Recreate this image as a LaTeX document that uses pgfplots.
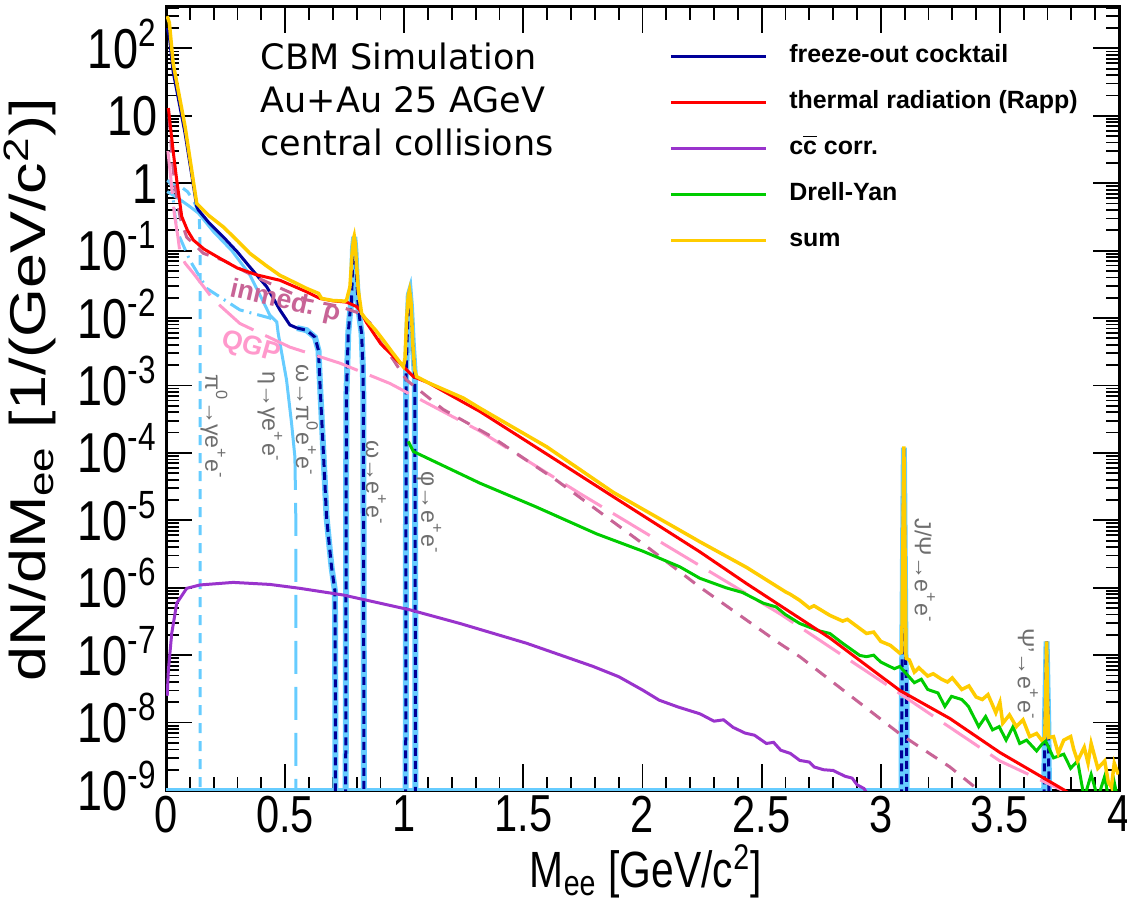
\documentclass[border=0pt]{standalone}
\usepackage{fontspec}
\setmainfont{Liberation Sans}
\newfontfamily\axisfont{Liberation Sans}[FakeStretch=0.8]
\newfontfamily\cbmfont{DejaVu Sans}
\usepackage{pgfplots}
\pgfplotsset{compat=1.18}
\definecolor{cnavy}{RGB}{0,0,153}
\definecolor{cred}{RGB}{255,0,0}
\definecolor{cpurple}{RGB}{153,51,204}
\definecolor{cgreen}{RGB}{0,204,0}
\definecolor{cyellow}{RGB}{255,204,0}
\definecolor{clblue}{RGB}{102,204,255}
\definecolor{cmauve}{RGB}{200,100,150}
\definecolor{cpink}{RGB}{255,153,204}
\definecolor{cgray}{RGB}{110,110,110}
\begin{document}
\begin{tikzpicture}
\path[use as bounding box] (0,0) rectangle (11.27cm,9cm);
\begin{axis}[
  at={(1.66cm,1.10cm)}, anchor=south west,
  width=9.53cm, height=7.83cm, scale only axis,
  xmin=0, xmax=4, ymode=log, ymin=1e-9, ymax=410,
  xtick={0,0.5,1,1.5,2,2.5,3,3.5,4},
  xticklabels={0,0.5,1,1.5,2,2.5,3,3.5,4},
  minor x tick num=4,
  ytick={1e-9,1e-8,1e-7,1e-6,1e-5,1e-4,1e-3,1e-2,1e-1,1,10,100},
  yticklabels={10\textsuperscript{-9},10\textsuperscript{-8},10\textsuperscript{-7},10\textsuperscript{-6},10\textsuperscript{-5},10\textsuperscript{-4},10\textsuperscript{-3},10\textsuperscript{-2},10\textsuperscript{-1},1,10,10\textsuperscript{2}},
  minor ytick={2e-9,3e-9,4e-9,5e-9,6e-9,7e-9,8e-9,9e-9,
    2e-8,3e-8,4e-8,5e-8,6e-8,7e-8,8e-8,9e-8,
    2e-7,3e-7,4e-7,5e-7,6e-7,7e-7,8e-7,9e-7,
    2e-6,3e-6,4e-6,5e-6,6e-6,7e-6,8e-6,9e-6,
    2e-5,3e-5,4e-5,5e-5,6e-5,7e-5,8e-5,9e-5,
    2e-4,3e-4,4e-4,5e-4,6e-4,7e-4,8e-4,9e-4,
    2e-3,3e-3,4e-3,5e-3,6e-3,7e-3,8e-3,9e-3,
    0.02,0.03,0.04,0.05,0.06,0.07,0.08,0.09,
    0.2,0.3,0.4,0.5,0.6,0.7,0.8,0.9,
    2,3,4,5,6,7,8,9,
    20,30,40,50,60,70,80,90,
    200,300,400},
  tick align=inside, tick pos=both,
  major tick length=0.26cm, minor tick length=0.13cm,
  axis line style={line width=0.03cm},
  every tick/.style={black, line width=0.018cm},
  xticklabel style={font=\axisfont\fontsize{14.8}{16}\selectfont, anchor=north, inner sep=0pt, yshift=-0.05cm},
  yticklabel style={font=\axisfont\fontsize{16}{17}\selectfont, anchor=base east, inner sep=0pt, xshift=-0.08cm, yshift=-5.7pt},
  xlabel={M\textsubscript{ee} [GeV/c\textsuperscript{2}]},
  ylabel={\scalebox{1}[0.8]{dN/dM\textsubscript{ee} [1/(GeV/c\textsuperscript{2})]}},
  every axis x label/.style={at={(axis description cs:0.5037,-0.104)}, anchor=center, font=\axisfont\fontsize{14.5}{16}\selectfont},
  every axis y label/.style={at={(axis description cs:-0.1427,0.511)}, anchor=center, rotate=90, font=\fontsize{17.9}{19}\selectfont},
  legend style={at={(0.5163,0.963)}, anchor=north west, draw=none, fill=none,
    font=\bfseries\fontsize{7.1}{8.5}\selectfont, row sep=0.2cm,
    nodes={inner sep=0pt, text height=0.19cm, text depth=0.07cm},
    /tikz/every odd column/.append style={column sep=0.22cm}},
  legend cell align=left,
  legend image code/.code={\draw[#1] (0cm,0cm) -- (0.95cm,0cm);},
]
\addlegendimage{cnavy, line width=0.03cm}
\addlegendentry{freeze-out cocktail}
\addlegendimage{cred, line width=0.03cm}
\addlegendentry{thermal radiation (Rapp)}
\addlegendimage{cpurple, line width=0.03cm}
\addlegendentry{c$\overline{\mbox{c}}$ corr.}
\addlegendimage{cgreen, line width=0.03cm}
\addlegendentry{Drell-Yan}
\addlegendimage{cyellow, line width=0.03cm}
\addlegendentry{sum}

% bottom light-blue band
\addplot[forget plot, clblue, line width=0.05cm] coordinates {(0,1e-9) (3.72,1e-9)};
% pi0 Dalitz
\addplot[forget plot, clblue, line width=0.03cm, dash pattern=on 0.1cm off 0.08cm] coordinates {
(0.005,1.1)(0.03,0.95)(0.06,0.9)(0.09,0.75)(0.115,0.56)(0.13,0.42)(0.140,0.3)(0.143,0.1)(0.144,1e-12)};
% dash-dot component
\addplot[forget plot, clblue, line width=0.03cm, dash pattern=on 0.15cm off 0.06cm on 0.02cm off 0.06cm] coordinates {
(0.01,1.1)(0.024,0.9)(0.045,0.2)(0.10,0.072)(0.171,0.0275)(0.31,0.0132)(0.436,0.010)(0.465,0.0087)};
% eta Dalitz (solid + long dash)
\addplot[forget plot, clblue, line width=0.03cm] coordinates {
(0.005,0.75)(0.05,0.6)(0.10,0.45)(0.136,0.36)(0.2,0.19)(0.276,0.10)(0.35,0.045)(0.40,0.02)(0.436,0.011)(0.465,0.0087)(0.471,0.0059)(0.506,0.0012)(0.527,2.75e-4)(0.541,8.7e-5)};
\addplot[forget plot, clblue, line width=0.03cm, dash pattern=on 0.33cm off 0.13cm] coordinates {
(0.541,8.7e-5)(0.545,1e-5)(0.546,1e-12)};
% light-blue underlay of resonances
\addplot[forget plot, clblue, line width=0.06cm] coordinates {
(0.55,0.0071)(0.59,0.0066)(0.625,0.0052)(0.64,0.0033)(0.646,0.0011)(0.66,1.1e-4)(0.674,1.1e-5)(0.688,3.5e-6)(0.695,2.0e-6)(0.709,9e-7)(0.711,1e-8)(0.712,1e-12)};
\addplot[forget plot, clblue, line width=0.06cm] coordinates {
(0.753,1e-12)(0.755,1e-7)(0.757,7e-4)(0.765,0.006)(0.772,0.0117)(0.779,0.0186)(0.785,0.11)(0.790,0.16)(0.795,0.10)(0.80,0.04)(0.807,0.0148)(0.815,0.0085)(0.821,0.0059)(0.826,0.002)(0.828,7.6e-4)(0.830,1e-7)(0.832,1e-12)};
\addplot[forget plot, clblue, line width=0.06cm] coordinates {
(1.005,1e-12)(1.007,1e-6)(1.008,1.6e-3)(1.013,0.006)(1.019,0.022)(1.023,0.0245)(1.028,0.015)(1.036,0.004)(1.044,1.5e-3)(1.046,1e-6)(1.048,1e-12)};
\addplot[forget plot, clblue, line width=0.06cm] coordinates {
(3.086,1e-12)(3.088,1e-8)(3.090,8e-8)(3.093,2e-6)(3.097,1.2e-4)(3.101,2e-6)(3.104,8e-8)(3.108,3e-8)(3.111,1e-12)};
\addplot[forget plot, clblue, line width=0.06cm] coordinates {
(3.683,1e-12)(3.686,1e-9)(3.689,1e-8)(3.692,3e-8)(3.696,1.6e-7)(3.700,3e-8)(3.703,1e-8)(3.706,1e-9)(3.708,1e-12)};
% freeze-out cocktail (navy)
\addplot[forget plot, cnavy, line width=0.03cm] coordinates {
(0.005,200)(0.014,150)(0.03,45)(0.08,5.5)(0.129,0.45)(0.136,0.40)(0.18,0.26)(0.24,0.16)(0.30,0.095)(0.352,0.057)(0.423,0.029)(0.478,0.0132)(0.52,0.0079)(0.55,0.0071)};
\addplot[forget plot, cnavy, line width=0.03cm, dash pattern=on 0.08cm off 0.05cm] coordinates {
(0.55,0.0071)(0.59,0.0066)(0.625,0.0052)(0.64,0.0033)(0.646,0.0011)(0.66,1.1e-4)(0.674,1.1e-5)(0.688,3.5e-6)(0.695,2.0e-6)(0.709,9e-7)(0.711,1e-8)(0.712,1e-12)};
\addplot[forget plot, cnavy, line width=0.03cm, dash pattern=on 0.08cm off 0.05cm] coordinates {
(0.753,1e-12)(0.755,1e-7)(0.757,7e-4)(0.765,0.006)(0.772,0.0117)(0.779,0.0186)(0.785,0.11)(0.790,0.16)(0.795,0.10)(0.80,0.04)(0.807,0.0148)(0.815,0.0085)(0.821,0.0059)(0.826,0.002)(0.828,7.6e-4)(0.830,1e-7)(0.832,1e-12)};
\addplot[forget plot, cnavy, line width=0.03cm, dash pattern=on 0.08cm off 0.05cm] coordinates {
(1.005,1e-12)(1.007,1e-6)(1.008,1.6e-3)(1.013,0.006)(1.019,0.022)(1.023,0.0245)(1.028,0.015)(1.036,0.004)(1.044,1.5e-3)(1.046,1e-6)(1.048,1e-12)};
\addplot[forget plot, cnavy, line width=0.03cm, dash pattern=on 0.08cm off 0.05cm] coordinates {
(3.086,1e-12)(3.088,1e-8)(3.090,8e-8)(3.093,2e-6)(3.097,1.2e-4)(3.101,2e-6)(3.104,8e-8)(3.108,3e-8)(3.111,1e-12)};
\addplot[forget plot, cnavy, line width=0.03cm, dash pattern=on 0.08cm off 0.05cm] coordinates {
(3.683,1e-12)(3.686,1e-9)(3.689,1e-8)(3.692,3e-8)(3.696,1.6e-7)(3.700,3e-8)(3.703,1e-8)(3.706,1e-9)(3.708,1e-12)};
% charm
\addplot[forget plot, cpurple, line width=0.03cm] coordinates {
(0.005,2.5e-8)(0.01,6e-8)(0.024,2.1e-7)(0.045,5.9e-7)(0.087,9.8e-7)(0.143,1.1e-6)(0.282,1.2e-6)(0.436,1.12e-6)(0.562,9.8e-7)(0.744,7.8e-7)(1.024,4.7e-7)(1.234,2.95e-7)(1.514,1.5e-7)(1.793,6.8e-8)(1.90,4.8e-8)(2.003,3.0e-8)(2.07,2.15e-8)(2.15,1.7e-8)(2.241,1.35e-8)(2.30,1.05e-8)(2.34,1.1e-8)(2.38,8.5e-9)(2.43,7.0e-9)(2.47,6.5e-9)(2.52,4.9e-9)(2.55,5.1e-9)(2.58,3.9e-9)(2.62,3.5e-9)(2.66,2.75e-9)(2.70,2.6e-9)(2.72,2.2e-9)(2.76,2.0e-9)(2.80,1.95e-9)(2.85,1.6e-9)(2.88,1.5e-9)(2.90,1.2e-9)(2.93,1.05e-9)(2.95,8e-10)};
% QGP
\addplot[forget plot, cpink, line width=0.03cm, dash pattern=on 0.43cm off 0.13cm] coordinates {
(0.008,3)(0.02,1.2)(0.035,0.35)(0.05,0.16)(0.059,0.091)(0.08,0.065)(0.115,0.046)(0.2,0.0186)(0.31,0.0083)(0.52,0.0037)(0.73,0.00214)(0.94,0.00107)(1.318,2.1e-4)(1.737,2.5e-5)(2.157,3.2e-6)(2.577,4.1e-7)(3.08,2.7e-8)(3.248,1.07e-8)(3.5,2.7e-9)(3.76,1e-9)(3.8,7e-10)};
% in-medium rho
\addplot[forget plot, cmauve, line width=0.03cm, dash pattern=on 0.13cm off 0.1cm] coordinates {
(0.013,9.7)(0.025,2.5)(0.038,0.89)(0.06,0.3)(0.087,0.158)(0.157,0.091)(0.24,0.072)(0.38,0.0400)(0.59,0.0186)(0.73,0.0148)(0.814,0.0117)(0.856,0.0085)(0.898,0.0045)(0.954,0.0024)(1.01,0.0012)(1.164,4.4e-4)(1.36,1.8e-4)(1.64,3.9e-5)(2.017,4.1e-6)(2.241,1.02e-6)(2.577,1.48e-7)(2.66,9.5e-8)(3.08,6.8e-9)(3.29,2.2e-9)(3.41,1e-9)(3.45,7e-10)};
% Drell-Yan
\addplot[forget plot, cgreen, line width=0.03cm] coordinates {
(1.017,1.48e-4)(1.038,1.05e-4)(1.318,3.55e-5)(1.55,1.6e-5)(1.807,6.3e-6)(2.0,3.5e-6)(2.157,2.04e-6)(2.241,1.38e-6)(2.35,1.0e-6)(2.42,8.5e-7)(2.507,5.9e-7)(2.56,5.2e-7)(2.60,4.0e-7)(2.66,2.95e-7)(2.70,2.6e-7)(2.74,2.3e-7)(2.786,2.1e-7)(2.84,1.5e-7)(2.912,9.9e-8)(2.94,9.5e-8)(2.97,1.0e-7)(3.0,7.9e-8)(3.057,6.3e-8)(3.08,6.8e-8)(3.141,3.9e-8)(3.170,4.4e-8)(3.197,3.1e-8)(3.240,2.75e-8)(3.269,1.74e-8)(3.297,2.45e-8)(3.340,2.2e-8)(3.368,1.74e-8)(3.411,8.7e-9)(3.440,1.23e-8)(3.469,7.8e-9)(3.497,8.7e-9)(3.526,5.5e-9)(3.555,8.7e-9)(3.583,4.9e-9)(3.612,5.5e-9)(3.654,3.8e-9)(3.690,5.5e-9)(3.725,3.0e-9)(3.768,3.4e-9)(3.797,2.1e-9)(3.826,2.7e-9)(3.854,7.6e-10)(3.883,1.7e-9)(3.911,7.6e-10)(3.94,1.6e-9)(3.96,6e-10)(3.98,1.3e-9)(4.0,6e-10)};
% thermal (Rapp)
\addplot[forget plot, cred, line width=0.03cm] coordinates {
(0.01,13)(0.03,3.0)(0.045,1.11)(0.066,0.32)(0.09,0.20)(0.115,0.143)(0.16,0.105)(0.24,0.072)(0.30,0.055)(0.38,0.0437)(0.478,0.0363)(0.59,0.0245)(0.646,0.0195)(0.70,0.018)(0.758,0.0172)(0.80,0.0148)(0.814,0.0130)(0.842,0.0085)(0.90,0.0042)(0.982,0.00214)(1.038,0.00135)(1.10,0.0011)(1.318,4.1e-4)(1.6,9.5e-5)(1.877,2.24e-5)(2.241,3.4e-6)(2.437,1.15e-6)(2.786,1.8e-7)(3.08,3.0e-8)(3.29,1.15e-8)(3.5,3.6e-9)(3.77,1e-9)(3.8,8.5e-10)};
% sum
\addplot[forget plot, cyellow, line width=0.035cm] coordinates {
(0.005,300)(0.014,240)(0.03,60)(0.08,6.9)(0.129,0.50)(0.18,0.33)(0.24,0.225)(0.30,0.14)(0.352,0.091)(0.42,0.060)(0.478,0.043)(0.53,0.035)(0.59,0.0275)(0.64,0.0232)(0.653,0.0195)(0.70,0.0182)(0.751,0.0178)(0.758,0.0186)(0.772,0.029)(0.781,0.09)(0.787,0.15)(0.790,0.165)(0.794,0.13)(0.800,0.06)(0.807,0.026)(0.821,0.0117)(0.842,0.0093)(0.88,0.0066)(0.912,0.0047)(0.95,0.0031)(0.996,0.0019)(1.003,0.0025)(1.010,0.010)(1.017,0.022)(1.022,0.026)(1.028,0.018)(1.036,0.004)(1.044,0.0017)(1.052,0.00135)(1.10,0.0011)(1.248,6.5e-4)(1.318,4.6e-4)(1.598,1.23e-4)(1.877,2.6e-5)(2.157,7.1e-6)(2.241,4.8e-6)(2.437,2.0e-6)(2.60,8.7e-7)(2.62,8.0e-7)(2.66,6.5e-7)(2.70,5.0e-7)(2.72,5.4e-7)(2.786,3.9e-7)(2.84,3.2e-7)(2.86,3.4e-7)(2.94,2.1e-7)(2.97,2.2e-7)(3.00,1.6e-7)(3.04,1.4e-7)(3.08,1.07e-7)(3.088,1.1e-7)(3.092,3e-6)(3.097,1.25e-4)(3.102,3e-6)(3.106,9e-8)(3.12,8.5e-8)(3.141,5.6e-8)(3.16,6.5e-8)(3.197,4.9e-8)(3.22,5.3e-8)(3.255,4.4e-8)(3.28,4.0e-8)(3.30,4.6e-8)(3.34,3.1e-8)(3.37,3.5e-8)(3.40,2.4e-8)(3.426,2.2e-8)(3.45,2.6e-8)(3.483,1.4e-8)(3.50,2.0e-8)(3.512,9.8e-9)(3.54,1.3e-8)(3.569,8.7e-9)(3.597,1.1e-8)(3.625,6.2e-9)(3.654,6.9e-9)(3.675,5.5e-9)(3.688,6.0e-9)(3.692,2e-8)(3.696,1.6e-7)(3.700,2e-8)(3.705,6e-9)(3.725,6.2e-9)(3.745,3.5e-9)(3.768,5.5e-9)(3.797,6.2e-9)(3.81,4e-9)(3.826,2.7e-9)(3.854,4.3e-9)(3.87,2.5e-9)(3.883,4.9e-9)(3.911,2.1e-9)(3.94,2.7e-9)(3.955,1.3e-9)(3.968,1.1e-9)(3.98,2.5e-9)(3.997,1.7e-9)};

% annotations
\node[anchor=north west, align=left, inner sep=0pt, font=\cbmfont\fontsize{9.96}{12.2}\selectfont] at (rel axis cs:0.0986,0.955) {CBM Simulation\\Au+Au 25 AGeV\\central collisions};
\node[rotate=-13, inner sep=0pt, text=cmauve, font=\bfseries\fontsize{7.6}{8.5}\selectfont] at (axis cs:0.50,0.0172) {inmed. ρ};
\node[rotate=-16, inner sep=0pt, text=cpink, font=\bfseries\fontsize{7.6}{8.5}\selectfont] at (axis cs:0.357,0.0036) {QGP};
\begin{scope}[every node/.style={rotate=-90, text=cgray, font=\fontsize{6.6}{7}\selectfont}]
\node at (axis cs:0.2014,2.41e-4) {π\textsuperscript{0}→γe\textsuperscript{+}e\textsuperscript{-}};
\node at (axis cs:0.4364,3.39e-4) {η→γe\textsuperscript{+}e\textsuperscript{-}};
\node at (axis cs:0.5917,3.05e-4) {ω→π\textsuperscript{0}e\textsuperscript{+}e\textsuperscript{-}};
\node at (axis cs:0.8812,3.56e-5) {ω→e\textsuperscript{+}e\textsuperscript{-}};
\node at (axis cs:1.1037,1.28e-5) {φ→e\textsuperscript{+}e\textsuperscript{-}};
\node at (axis cs:3.185,1.76e-6) {J/Ψ→e\textsuperscript{+}e\textsuperscript{-}};
\node at (axis cs:3.617,5.21e-8) {Ψ'→e\textsuperscript{+}e\textsuperscript{-}};
\end{scope}
\end{axis}
\end{tikzpicture}
\end{document}
